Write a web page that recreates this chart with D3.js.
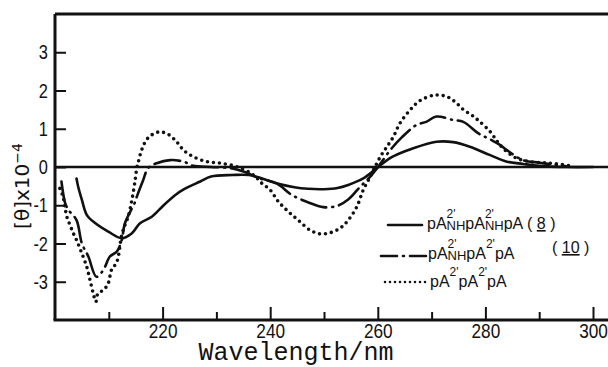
<!DOCTYPE html>
<html>
<head>
<meta charset="utf-8">
<script src="https://cdn.jsdelivr.net/npm/d3@7"></script>
<style>
  body { margin: 0; background: #fff; }
  svg { display: block; }
  .tick text { font-family: "Liberation Sans", Arial, sans-serif; fill: #111; }
  .axis line { stroke: #111; stroke-width: 2; }
  .axis path { display: none; }
</style>
</head>
<body>
<svg id="chart"></svg>
<script>
// wavelength (nm) / [theta] x 10^-4
let wl8 = [204, 204.3, 205, 205.9, 207.4, 209.9, 212.4, 214.3, 215.8, 218, 220.2, 222.5, 224, 227, 229, 233, 236, 238.5, 241.5, 244.5, 247, 250, 252.5, 254.5, 257.3, 259.8, 262.5, 266.6, 270.9, 274, 277.1, 280.9, 284, 287, 290, 295, 300];
let th8 = [-0.30, -0.51, -0.86, -1.25, -1.46, -1.69, -1.86, -1.73, -1.47, -1.30, -1.00, -0.72, -0.58, -0.38, -0.25, -0.21, -0.21, -0.30, -0.44, -0.53, -0.57, -0.58, -0.55, -0.47, -0.30, -0.03, 0.25, 0.49, 0.66, 0.65, 0.53, 0.31, 0.14, 0.08, 0.03, 0.0, 0.0];

let wl10 = [201.2, 201.9, 202.5, 204, 205, 206.2, 207.7, 209, 210.2, 211.5, 212.4, 213, 214.9, 215.2, 216.4, 217.3, 218.9, 221.4, 223.9, 225.7, 229, 232.5, 235, 238.1, 241.2, 244, 247, 249.9, 252.4, 254.5, 256.5, 258.6, 260.3, 262.3, 264.5, 267.2, 269, 270.9, 274, 275.9, 278.7, 280.9, 282.7, 284, 287, 290.1, 295];
let th10 = [-0.38, -0.95, -1.12, -1.39, -2.00, -2.34, -2.87, -2.69, -2.34, -2.21, -1.91, -1.47, -0.91, -0.78, -0.34, -0.03, 0.10, 0.18, 0.14, 0.03, 0.0, -0.03, -0.12, -0.30, -0.43, -0.73, -0.92, -1.05, -1.02, -0.85, -0.55, -0.25, 0.05, 0.44, 0.78, 1.10, 1.18, 1.32, 1.23, 1.18, 0.88, 0.72, 0.58, 0.44, 0.18, 0.11, 0.02];

let wlP = [200.9, 201.5, 202.2, 202.8, 203.4, 204, 205, 205.9, 206.5, 207.1, 207.6, 208, 209, 209.9, 210.5, 211.5, 212.4, 213, 213.6, 214.3, 214.9, 215.2, 215.5, 216.1, 217, 218, 219.5, 221.2, 222.6, 223.9, 225.7, 228.2, 230.7, 233.8, 236.9, 238.4, 240, 241.5, 243.4, 245.3, 247.4, 249.3, 251.1, 253, 254.5, 256.1, 257.3, 258.6, 259.5, 260.6, 261.7, 262.9, 264.1, 266, 267.8, 270.6, 272.8, 274.4, 276, 277.8, 279, 280.9, 281.8, 282.7, 284, 285.8, 288.3, 292, 296];
let thP = [-0.56, -0.78, -1.30, -1.52, -1.73, -1.91, -2.26, -2.61, -2.95, -3.30, -3.52, -3.30, -3.22, -3.04, -2.69, -2.48, -1.78, -1.52, -1.30, -0.86, -0.34, -0.03, 0.14, 0.44, 0.71, 0.84, 0.92, 0.84, 0.66, 0.44, 0.27, 0.14, 0.10, 0.01, -0.21, -0.42, -0.60, -0.90, -1.17, -1.40, -1.65, -1.75, -1.72, -1.60, -1.39, -1.04, -0.60, -0.25, 0.01, 0.30, 0.53, 0.79, 1.14, 1.49, 1.73, 1.88, 1.84, 1.70, 1.49, 1.32, 1.18, 0.92, 0.75, 0.58, 0.40, 0.23, 0.14, 0.10, 0.03];

// ticks
let xMajor = [220, 240, 260, 280, 300];
let xMinor = [210, 230, 250, 270, 290];
let yTicks = [-3, -2, -1, 0, 1, 2, 3];

// legend labels: plain text, or {sup, sub} stacked after the previous letters
let legend8 = ["pA", { sup: "2'", sub: "NH" }, "pA", { sup: "2'", sub: "NH" }, "pA"];
let legend10 = ["pA", { sup: "2'", sub: "NH" }, "pA", { sup: "2'" }, "pA"];
let legendP = ["pA", { sup: "2'" }, "pA", { sup: "2'" }, "pA"];

let width = 608, height = 367;
let ink = "#111";

let svg = d3.select("#chart")
	.attr("width", width)
	.attr("height", height);

let x = d3.scaleLinear().domain([200, 300]).range([55, 593]);
let y = d3.scaleLinear().domain([-4, 4]).range([320, 14]);

// frame
svg.append("line")
	.attr("x1", x(200)).attr("x2", x(200))
	.attr("y1", y(4)).attr("y2", y(-4))
	.attr("stroke", ink).attr("stroke-width", 3);
svg.append("line")
	.attr("x1", x(200)).attr("x2", width)
	.attr("y1", y(4)).attr("y2", y(4))
	.attr("stroke", ink).attr("stroke-width", 3);
svg.append("line")
	.attr("x1", x(200) - 1.5).attr("x2", width)
	.attr("y1", y(-4)).attr("y2", y(-4))
	.attr("stroke", ink).attr("stroke-width", 3);

// zero line
svg.append("line")
	.attr("x1", x(200)).attr("x2", width)
	.attr("y1", y(0)).attr("y2", y(0))
	.attr("stroke", ink).attr("stroke-width", 2.5);

// x axis, ticks pointing up into the plot
svg.append("g")
	.attr("class", "axis")
	.attr("transform", `translate(0,${y(-4)})`)
	.call(d3.axisBottom(x).tickValues(xMajor).tickSize(-13).tickPadding(3).tickFormat(d => String(d)))
	.selectAll("text")
	.style("font-size", "21px")
	.attr("transform", "scale(0.82,1)");

svg.append("g")
	.attr("class", "axis")
	.attr("transform", `translate(0,${y(-4)})`)
	.call(d3.axisBottom(x).tickValues(xMinor).tickSize(-8).tickFormat(""));

// y axis, ticks pointing right
svg.append("g")
	.attr("class", "axis")
	.attr("transform", `translate(${x(200)},0)`)
	.call(d3.axisLeft(y).tickValues(yTicks).tickSize(-11).tickPadding(7).tickFormat(d => String(d)))
	.selectAll("text")
	.style("font-size", "21px")
	.attr("x", -9)
	.attr("transform", "scale(0.78,1)");

// axis titles
svg.append("text")
	.attr("x", 296)
	.attr("y", 360)
	.attr("text-anchor", "middle")
	.style("font-family", "'Liberation Mono', 'DejaVu Sans Mono', monospace")
	.style("font-size", "25px")
	.style("fill", ink)
	.text("Wavelength/nm");

let yTitle = svg.append("text")
	.attr("transform", "translate(29,186) rotate(-90)")
	.attr("text-anchor", "middle")
	.style("font-family", "'DejaVu Sans', sans-serif")
	.style("font-size", "20px")
	.style("fill", ink);
yTitle.append("tspan").text("[θ]x10");
yTitle.append("tspan").attr("dy", -7).style("font-size", "14px").text("−4");

// curves
let line = d3.line()
	.x(d => x(d[0]))
	.y(d => y(d[1]))
	.curve(d3.curveCatmullRom.alpha(0.5));

let series = [
	{ wl: wl8, th: th8, dash: null, width: 2.6 },
	{ wl: wl10, th: th10, dash: "26 6 1 6", width: 2.6 },
	{ wl: wlP, th: thP, dash: "0 6", width: 3.6 }
];

series.forEach(s => {
	svg.append("path")
		.attr("d", line(s.wl.map((w, i) => [w, s.th[i]])))
		.attr("fill", "none")
		.attr("stroke", ink)
		.attr("stroke-width", s.width)
		.attr("stroke-linecap", "round")
		.attr("stroke-linejoin", "round")
		.attr("stroke-dasharray", s.dash);
});

// legend
let legendFont = "'Liberation Sans', Arial, sans-serif";

function richLabel(x0, base, parts) {
	let cx = x0;
	parts.forEach(p => {
		if (typeof p === "string") {
			let t = svg.append("text")
				.attr("x", cx).attr("y", base)
				.style("font-family", legendFont).style("font-size", "16px").style("fill", ink)
				.text(p);
			cx += t.node().getComputedTextLength();
		} else {
			let w = 0;
			if (p.sup) {
				let t = svg.append("text")
					.attr("x", cx).attr("y", base - 11)
					.style("font-family", legendFont).style("font-size", "12px").style("fill", ink)
					.text(p.sup);
				w = Math.max(w, t.node().getComputedTextLength());
			}
			if (p.sub) {
				let t = svg.append("text")
					.attr("x", cx).attr("y", base + 1)
					.style("font-family", legendFont).style("font-size", "13px").style("fill", ink)
					.text(p.sub);
				w = Math.max(w, t.node().getComputedTextLength());
			}
			cx += w;
		}
	});
	return cx;
}

function numLabel(x0, base, num) {
	let g = svg.append("text")
		.attr("x", x0).attr("y", base)
		.style("font-family", legendFont).style("font-size", "16px").style("fill", ink)
		.style("white-space", "pre");
	g.append("tspan").text("( ");
	g.append("tspan").text(num).style("text-decoration", "underline");
	g.append("tspan").text(" )");
}

let legendRows = [
	{ parts: legend8, dash: null, width: 2.6, x1: 388, x2: 422, ly: 225, tx: 427, ty: 229, num: "8", nx: 527, ny: 229 },
	{ parts: legend10, dash: "16 6 1 6", width: 2.6, x1: 381, x2: 426, ly: 256, tx: 428, ty: 259, num: "10", nx: 552, ny: 253 },
	{ parts: legendP, dash: "0 5", width: 2.6, x1: 385, x2: 428, ly: 282, tx: 430, ty: 287, num: null }
];

legendRows.forEach(r => {
	svg.append("line")
		.attr("x1", r.x1).attr("x2", r.x2)
		.attr("y1", r.ly).attr("y2", r.ly)
		.attr("stroke", ink)
		.attr("stroke-width", r.width)
		.attr("stroke-linecap", "round")
		.attr("stroke-dasharray", r.dash);
	richLabel(r.tx, r.ty, r.parts);
	if (r.num) numLabel(r.nx, r.ny, r.num);
});
</script>
</body>
</html>
